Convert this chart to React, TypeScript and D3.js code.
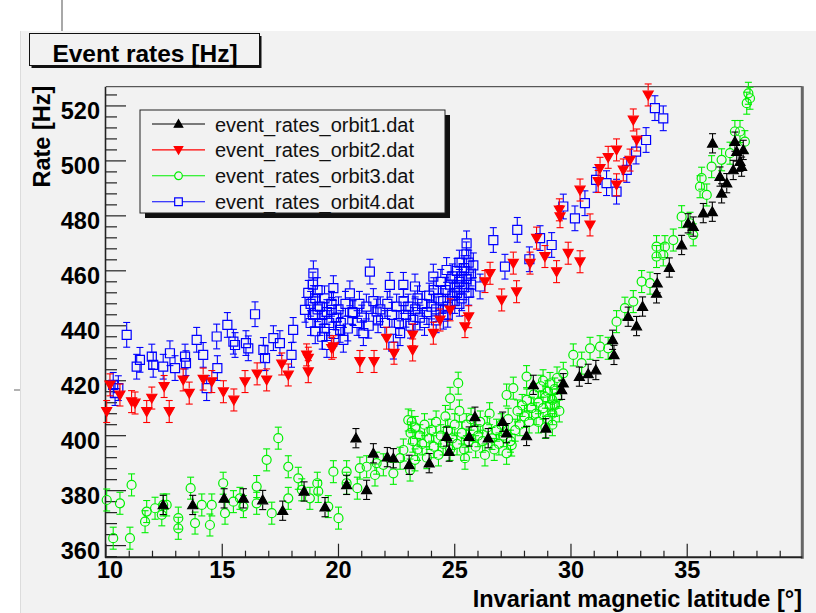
import React, { useEffect, useRef } from "react";
import * as d3 from "d3";

type Pt = [number, number];

// orbit1: black filled up-triangles (latitude, rate)
const orbit1: Pt[] = [
  [12.46, 374.8], [13.73, 374.8], [15.08, 377.2], [15.91, 377.2], [16.74, 376.6], [17.6, 372.7],
  [18.52, 379.7], [19.42, 374.0], [20.35, 382.1], [20.75, 399.1], [21.21, 380.3], [21.5, 393.6],
  [22.1, 392.2], [22.36, 391.8], [23.04, 389.4], [23.9, 390.0], [24.65, 399.7], [24.76, 394.2],
  [25.62, 399.7], [25.87, 406.9], [26.44, 399.1], [27.06, 405.1], [27.23, 400.9], [28.09, 399.9],
  [28.38, 418.5], [28.92, 402.7], [29.6, 416.7], [29.67, 419.1], [30.36, 421.5], [30.74, 422.5],
  [31.07, 423.9], [31.79, 434.9], [31.85, 429.4], [32.46, 443.3], [32.82, 439.9], [33.08, 447.0],
  [33.68, 451.8], [33.71, 455.5], [34.23, 461.2], [34.76, 469.4], [35.04, 477.3], [35.26, 476.1],
  [35.69, 481.0], [36.08, 481.5], [36.09, 506.4], [36.41, 494.3], [36.48, 488.2], [36.7, 491.9],
  [36.98, 496.7], [37.05, 507.0], [37.13, 503.4], [37.27, 499.7], [37.34, 497.9], [37.41, 504.0],
];

// orbit2: red filled down-triangles
const orbit2: Pt[] = [
  [10.03, 408.8], [10.17, 418.5], [10.6, 414.8], [11.1, 412.4], [11.25, 411.9], [11.75, 408.8],
  [11.97, 413.7], [12.5, 417.9], [12.72, 408.8], [13.32, 420.3], [13.58, 415.5], [14.18, 420.6],
  [14.55, 419.7], [15.05, 416.0], [15.5, 413.0], [15.98, 419.7], [16.5, 422.5], [16.91, 420.3],
  [17.56, 426.1], [17.84, 422.1], [18.63, 429.4], [18.7, 428.2], [18.7, 423.3], [19.71, 431.8],
  [19.78, 432.4], [20.92, 427.0], [21.53, 427.0], [22.07, 435.5], [22.39, 430.0], [23.19, 436.7],
  [23.19, 431.2], [24.08, 437.3], [24.37, 442.1], [24.8, 445.8], [25.44, 439.7], [25.6, 443.3],
  [26.3, 456.1], [26.52, 459.1], [27.02, 449.4], [27.52, 462.8], [27.66, 452.4], [28.24, 462.8],
  [28.88, 465.2], [29.38, 459.7], [29.88, 466.4], [30.39, 463.3], [28.52, 471.9], [29.5, 482.2],
  [29.53, 479.7], [30.39, 489.4], [30.82, 476.7], [31.17, 492.5], [31.25, 497.3], [31.6, 501.3],
  [31.96, 504.0], [31.96, 491.3], [32.25, 496.7], [32.54, 500.3], [32.68, 514.9], [32.83, 507.6],
  [33.32, 524.0],
];

// orbit3: green open circles
const orbit3: Pt[] = [
  [10.03, 376.6], [10.31, 362.7], [10.6, 375.4], [11.03, 362.7], [11.1, 382.1], [11.68, 368.7],
  [11.75, 372.4], [12.11, 373.6], [12.4, 371.2], [12.46, 374.8], [12.61, 374.8], [13.11, 370.0],
  [13.11, 366.3], [13.64, 380.9], [13.83, 368.2], [14.12, 374.8], [14.47, 367.5], [14.55, 374.8],
  [15.04, 382.7], [15.12, 371.8], [15.48, 376.0], [15.76, 377.2], [15.91, 374.2], [16.48, 381.5],
  [16.48, 375.4], [16.91, 391.2], [17.13, 371.8], [17.41, 399.1], [17.84, 388.7], [17.84, 377.2],
  [18.27, 384.5], [18.42, 380.3], [18.77, 377.2], [19.09, 382.7], [19.13, 379.7], [19.56, 374.2],
  [19.78, 386.9], [20.0, 370.0], [20.35, 386.9], [20.35, 382.7], [20.81, 380.9], [20.92, 388.2],
  [21.21, 388.7], [21.57, 385.7], [21.64, 390.0], [21.93, 389.4], [22.36, 386.3], [22.65, 391.8],
  [22.79, 394.8], [23.0, 405.7], [23.15, 405.1], [23.08, 387.5], [23.29, 391.2],
  [23.1, 401], [23.2, 398], [23.3, 403], [23.4, 395], [23.5, 400], [23.6, 397], [23.7, 404],
  [23.8, 392], [23.9, 399], [24.0, 402], [24.1, 396], [24.2, 405], [24.3, 393], [24.4, 400],
  [24.5, 397], [24.6, 407], [24.7, 402], [24.8, 395], [24.8, 413.6], [24.9, 399], [25.0, 404],
  [25.1, 397], [25.15, 419.1], [25.2, 409], [25.3, 401], [25.4, 395], [25.44, 391.8], [25.5, 404],
  [25.6, 398], [25.7, 406], [25.8, 402], [25.9, 396], [26.0, 400], [26.1, 405], [26.2, 398],
  [26.3, 393], [26.4, 403], [26.5, 408], [26.6, 399], [26.7, 395], [26.8, 402], [26.9, 397],
  [27.0, 404], [27.1, 400], [27.23, 414.8], [27.23, 393.6], [27.3, 406], [27.4, 398],
  [27.45, 396.6], [27.52, 417.3], [27.6, 402], [27.7, 409], [27.8, 404], [27.9, 411], [28.0, 407],
  [28.09, 421.5], [28.1, 413], [28.2, 405], [28.3, 410], [28.4, 415], [28.5, 408], [28.6, 412],
  [28.6, 405], [28.7, 418], [28.8, 410], [28.8, 420], [28.9, 414], [28.9, 403], [29.0, 406],
  [29.0, 416], [29.1, 411], [29.1, 419], [29.2, 413], [29.2, 408], [29.2, 404], [29.3, 417],
  [29.3, 411], [29.4, 421], [29.4, 414], [29.5, 409], [29.67, 422.7], [30.1, 429.4],
  [30.46, 426.4], [30.82, 431.8], [31.25, 432.4], [31.6, 431.8], [31.96, 441.5], [32.32, 446.4],
  [32.68, 448.8], [33.04, 456.1], [33.4, 455.5], [33.68, 465.2], [33.97, 465.8], [33.68, 468.8],
  [34.04, 468.8], [34.4, 471.2], [34.76, 479.7], [35.12, 477.3], [35.26, 473.1], [35.55, 490.6],
  [35.62, 493.7], [35.84, 487.6], [36.05, 497.9], [36.48, 500.4], [36.84, 502.8], [37.05, 510.7],
  [37.27, 510.7], [37.48, 507.0], [37.56, 521.0], [37.7, 522.8], [37.63, 524.6],
];

// orbit4: blue open squares
const orbit4: Pt[] = [
  [10.31, 418.5], [10.53, 417.3], [10.39, 415.5], [10.89, 436.7], [11.32, 425.1], [11.46, 427.6],
  [11.97, 428.8], [12.03, 425.8], [12.46, 425.1], [12.75, 430.0], [12.97, 424.6], [13.4, 428.8],
  [13.44, 426.4], [13.9, 434.9], [14.18, 429.4], [14.33, 417.3], [14.76, 436.1], [14.79, 424.6],
  [15.22, 440.3], [15.48, 434.2], [15.55, 433.0], [16.02, 433.7], [16.12, 431.8], [16.41, 444.2],
  [16.77, 431.2], [16.84, 428.2], [17.2, 435.5], [17.48, 433.7], [17.98, 429.4], [18.05, 438.5],
  [18.56, 445.8], [18.92, 459.1], [18.7, 452], [18.8, 448], [18.8, 441], [18.9, 455], [18.9, 444],
  [19.0, 450], [19.0, 438], [19.1, 446], [19.1, 453], [19.2, 441], [19.2, 447], [19.3, 436],
  [19.3, 444], [19.4, 450], [19.4, 439], [19.5, 445], [19.5, 433], [19.6, 441], [19.7, 448],
  [19.71, 445.8], [19.78, 453.7], [19.8, 437], [19.9, 443], [20.0, 446], [20.07, 438.5],
  [20.1, 441], [20.21, 434.9], [20.3, 448], [20.4, 439], [20.49, 451.8], [20.6, 445],
  [20.63, 444.6], [20.8, 441], [20.9, 448], [21.0, 443], [21.07, 437.3], [21.2, 447],
  [21.3, 440], [21.35, 459.7], [21.5, 449], [21.64, 445.2], [21.7, 442], [21.8, 446], [22.0, 441],
  [22.1, 448], [22.21, 454.9], [22.3, 444], [22.36, 432.4], [22.5, 447], [22.6, 441],
  [22.65, 437.3], [22.79, 454.9], [22.8, 449], [22.9, 444], [23.0, 447], [23.1, 440],
  [23.22, 442.1], [23.29, 454.3], [23.3, 446], [23.4, 450], [23.5, 443], [23.6, 448], [23.7, 441],
  [23.8, 445], [23.9, 451], [24.0, 447], [24.08, 457.9], [24.1, 453], [24.2, 446], [24.2, 442],
  [24.3, 450], [24.4, 456], [24.5, 449], [24.51, 443.3], [24.6, 453], [24.65, 460.3], [24.7, 447],
  [24.7, 444], [24.8, 455], [24.9, 451], [24.9, 458], [25.0, 449], [25.0, 454], [25.1, 460],
  [25.1, 452], [25.2, 456], [25.2, 463], [25.2, 448], [25.3, 450], [25.3, 458], [25.4, 454],
  [25.4, 461], [25.5, 466], [25.5, 457], [25.51, 470.0], [25.6, 452], [25.6, 463], [25.7, 459],
  [25.7, 455], [25.8, 462], [26.09, 454.3], [26.66, 471.2], [27.16, 461.5], [27.69, 474.9],
  [28.21, 464.2], [28.67, 471.9], [29.17, 469.4], [29.67, 483.4], [30.17, 479.1], [30.6, 484.6],
  [31.08, 493.1], [31.53, 491.9], [31.96, 488.8], [32.4, 496.7], [32.8, 503.4], [33.23, 507.6],
  [33.61, 519.2], [33.97, 515.5],
];

const seriesNames = [
  "event_rates_orbit1.dat",
  "event_rates_orbit2.dat",
  "event_rates_orbit3.dat",
  "event_rates_orbit4.dat",
];
const seriesColors = ["#000000", "#ff0000", "#00f000", "#0000ff"];
const seriesMarkers = ["triUp", "triDown", "circle", "square"];
const seriesErrors = [3.5, 4, 4, 4.5];
const seriesPoints = [orbit1, orbit2, orbit3, orbit4];

const yMajorTicks = [360, 380, 400, 420, 440, 460, 480, 500, 520];
const xMajorTicks = [10, 15, 20, 25, 30, 35];

const W = 816;
const H = 613;
const BG = "#f2f2f2";
const FONT = "'Liberation Sans', Arial, Helvetica, sans-serif";

// half extent of each marker (px), error bars stop at the marker edge
const markerHalf: Record<string, number> = { triUp: 4.5, triDown: 4.5, circle: 4.5, square: 4.5 };

function markerPath(kind: string, cx: number, cy: number, s = 1): string {
  if (kind === "triUp") return `M${cx},${cy - 5 * s}L${cx + 5 * s},${cy + 3.8 * s}L${cx - 5 * s},${cy + 3.8 * s}Z`;
  if (kind === "triDown") return `M${cx},${cy + 5 * s}L${cx + 5 * s},${cy - 3.8 * s}L${cx - 5 * s},${cy - 3.8 * s}Z`;
  if (kind === "square") return `M${cx - 4.5 * s},${cy - 4.5 * s}h${9 * s}v${9 * s}h${-9 * s}Z`;
  const r = 4.5 * s;
  return `M${cx - r},${cy}a${r},${r} 0 1,0 ${2 * r},0a${r},${r} 0 1,0 ${-2 * r},0`;
}

export default function App() {
  const svgRef = useRef<SVGSVGElement>(null);

  useEffect(() => {
    const svg = d3.select(svgRef.current);
    svg.selectAll("*").remove();

    const left = 106;
    const right = 802.3;
    const top = 86.7;
    const bottom = 557.7;

    const x = d3.scaleLinear().domain([10, 39.95]).range([left, right]);
    const y = d3.scaleLinear().domain([355.6, 527]).range([bottom, top]);

    // canvas
    svg.append("rect").attr("width", W).attr("height", H).attr("fill", "#ffffff");
    svg.append("rect").attr("x", 20).attr("y", 31).attr("width", W - 20).attr("height", H - 31).attr("fill", BG);
    svg.append("line").attr("x1", 20.5).attr("x2", 20.5).attr("y1", 31).attr("y2", H).attr("stroke", "#dcdcdc");
    svg.append("line").attr("x1", 62).attr("x2", 62).attr("y1", 0).attr("y2", 31).attr("stroke", "#a8a8a8").attr("stroke-width", 2);
    svg.append("line").attr("x1", 14).attr("x2", 20).attr("y1", 390).attr("y2", 390).attr("stroke", "#999").attr("stroke-width", 1.5);

    // title box
    svg.append("rect").attr("x", 31.5).attr("y", 36).attr("width", 230).attr("height", 32).attr("fill", "#111");
    svg.append("rect").attr("x", 29.5).attr("y", 33.5).attr("width", 230).attr("height", 32)
      .attr("fill", BG).attr("stroke", "#111").attr("stroke-width", 1);
    svg.append("text").attr("x", 145).attr("y", 61.5).attr("text-anchor", "middle")
      .style("font-family", FONT).style("font-weight", "bold").style("font-size", "24.5px")
      .text("Event rates [Hz]");

    // frame
    svg.append("line").attr("x1", left).attr("x2", right).attr("y1", top).attr("y2", top).attr("stroke", "#333");
    svg.append("line").attr("x1", right).attr("x2", right).attr("y1", top - 0.5).attr("y2", bottom + 1)
      .attr("stroke", "#666").attr("stroke-width", 3);

    // y axis
    const gy = svg.append("g");
    gy.append("line").attr("x1", left - 0.5).attr("x2", left - 0.5).attr("y1", top).attr("y2", bottom)
      .attr("stroke", "#222").attr("stroke-width", 1.6);
    d3.range(356, 527, 4).forEach((v) => {
      const major = v % 20 === 0;
      gy.append("line").attr("x1", left).attr("x2", left + (major ? 20 : 11))
        .attr("y1", y(v)).attr("y2", y(v)).attr("stroke", "#222").attr("stroke-width", 1.2);
    });
    gy.selectAll(".ylab").data(yMajorTicks).enter().append("text")
      .attr("x", 100).attr("y", (d) => y(d) + 13).attr("text-anchor", "end")
      .style("font-family", FONT).style("font-weight", "bold").style("font-size", "23.5px")
      .text((d) => d);
    gy.append("text").attr("transform", `translate(50,${top - 1}) rotate(-90)`).attr("text-anchor", "end")
      .style("font-family", FONT).style("font-weight", "bold").style("font-size", "23.5px")
      .text("Rate [Hz]");

    // x axis
    const gx = svg.append("g");
    gx.append("line").attr("x1", left - 1).attr("x2", right).attr("y1", bottom - 0.5).attr("y2", bottom - 0.5)
      .attr("stroke", "#222").attr("stroke-width", 2);
    d3.range(10, 40, 1).forEach((v) => {
      const major = v % 5 === 0;
      gx.append("line").attr("x1", x(v)).attr("x2", x(v)).attr("y1", bottom).attr("y2", bottom - (major ? 14 : 7))
        .attr("stroke", "#222").attr("stroke-width", 1.2);
    });
    gx.selectAll(".xlab").data(xMajorTicks).enter().append("text")
      .attr("x", (d) => x(d) + (d === 10 ? 4 : 0)).attr("y", 578).attr("text-anchor", "middle")
      .style("font-family", FONT).style("font-weight", "bold").style("font-size", "23.5px")
      .text((d) => d);
    gx.append("text").attr("x", 802).attr("y", 607).attr("text-anchor", "end")
      .style("font-family", FONT).style("font-weight", "bold").style("font-size", "23.5px")
      .text("Invariant magnetic latitude [°]");

    // data
    const plot = svg.append("g");
    const order = [3, 2, 1, 0];
    order.forEach((si) => {
      const color = seriesColors[si];
      const kind = seriesMarkers[si];
      const err = seriesErrors[si];
      const half = markerHalf[kind];
      const filled = kind === "triUp" || kind === "triDown";
      const g = plot.append("g");
      seriesPoints[si].forEach(([px, py]) => {
        const cx = x(px);
        const cy = y(py);
        const yHi = y(py + err);
        const yLo = y(py - err);
        g.append("line").attr("x1", cx).attr("x2", cx).attr("y1", yHi).attr("y2", cy - half)
          .attr("stroke", color).attr("stroke-width", 1.1);
        g.append("line").attr("x1", cx).attr("x2", cx).attr("y1", cy + half).attr("y2", yLo)
          .attr("stroke", color).attr("stroke-width", 1.1);
        [yHi, yLo].forEach((cap) => {
          g.append("line").attr("x1", cx - 3.5).attr("x2", cx + 3.5).attr("y1", cap).attr("y2", cap)
            .attr("stroke", color).attr("stroke-width", 1.1);
        });
        g.append("path").attr("d", markerPath(kind, cx, cy))
          .attr("fill", filled ? color : "none").attr("stroke", color).attr("stroke-width", 1.2);
      });
    });

    // legend
    const lx = 140;
    const ly = 110;
    const lw = 305;
    const lh = 103;
    svg.append("rect").attr("x", lx + 5).attr("y", ly + 5).attr("width", lw).attr("height", lh).attr("fill", "#111");
    svg.append("rect").attr("x", lx).attr("y", ly).attr("width", lw).attr("height", lh)
      .attr("fill", BG).attr("stroke", "#222").attr("stroke-width", 1);
    seriesNames.forEach((name, i) => {
      const ry = 124 + i * 25.9;
      const color = seriesColors[i];
      const kind = seriesMarkers[i];
      const filled = kind === "triUp" || kind === "triDown";
      svg.append("line").attr("x1", 152).attr("x2", 205).attr("y1", ry).attr("y2", ry)
        .attr("stroke", color).attr("stroke-width", 1.1);
      svg.append("path").attr("d", markerPath(kind, 178.5, ry, 0.85))
        .attr("fill", filled ? color : BG).attr("stroke", color).attr("stroke-width", 1.2);
      svg.append("text").attr("x", 215).attr("y", ry + 7.5)
        .style("font-family", FONT).style("font-size", "20px").attr("fill", "#111")
        .text(name);
    });
  }, []);

  return (
    <svg
      ref={svgRef}
      width={W}
      height={H}
      style={{ position: "absolute", left: 0, top: 0, display: "block" }}
    />
  );
}
